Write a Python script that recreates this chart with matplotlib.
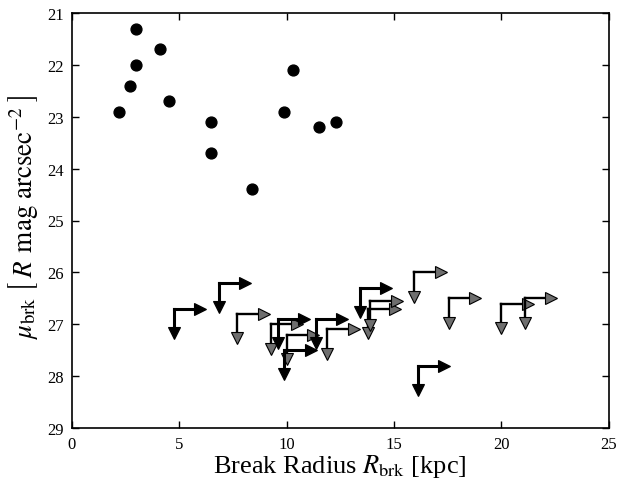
import numpy as np
import matplotlib
matplotlib.use('Agg')
import matplotlib.pyplot as plt

plt.rcParams['font.family'] = 'serif'
plt.rcParams['font.serif'] = ['Liberation Serif', 'DejaVu Serif']
plt.rcParams['mathtext.fontset'] = 'stix'

# measured breaks
r_brk = [2.2, 2.7, 3.0, 3.0, 4.1, 4.5, 6.5, 6.5, 8.4, 9.9, 10.3, 11.5, 12.3]
mu_brk = [22.9, 22.4, 21.3, 22.0, 21.7, 22.7, 23.1, 23.7, 24.4, 22.9, 22.1, 23.2, 23.1]

# limits (arrows), black and grey heads
lim_r_black = [4.75, 6.85, 9.6, 9.9, 11.35, 13.4, 16.1]
lim_mu_black = [26.7, 26.2, 26.9, 27.5, 26.9, 26.3, 27.8]
lim_r_grey = [7.7, 9.25, 10.0, 11.9, 13.8, 13.9, 15.95, 17.55, 20.0, 21.1]
lim_mu_grey = [26.8, 27.0, 27.2, 27.1, 26.7, 26.55, 26.0, 26.5, 26.6, 26.5]

ARROW_DX = 1.5   # kpc
ARROW_DY = 0.58  # mag


def draw_limits(ax, xs, ys, headcolor, lw, ms):
    half = ms / 72.0 * ax.figure.dpi / 2.0  # half head in pixels
    inv = ax.transData.inverted()
    for x, y in zip(xs, ys):
        tx, ty = x + ARROW_DX, y + ARROW_DY
        # pull the marker centre back by half a head so the tip sits on the end
        p = ax.transData.transform((tx, y))
        hx = inv.transform((p[0] - half, p[1]))[0]
        p = ax.transData.transform((x, ty))
        hy = inv.transform((p[0], p[1] + half))[1]
        ax.plot([x, hx], [y, y], color='black', lw=lw, solid_capstyle='projecting',
                marker='>', markevery=[1], ms=ms, mfc=headcolor, mec='black', mew=0.8)
        ax.plot([x, x], [y, hy], color='black', lw=lw, solid_capstyle='projecting',
                marker='v', markevery=[1], ms=ms, mfc=headcolor, mec='black', mew=0.8)


fig = plt.figure(figsize=(6.18, 4.81), dpi=100)
ax = fig.add_axes([72/618., 1 - 429/481., (608.5-72)/618., (429-14)/481.])
ax.set_xlim(0, 25)
ax.set_ylim(29, 21)

ax.plot(r_brk, mu_brk, 'o', color='black', ms=7.8)

draw_limits(ax, lim_r_grey, lim_mu_grey, '#6e6e6e', 1.7, 8)
draw_limits(ax, lim_r_black, lim_mu_black, 'black', 2.2, 8.5)

ax.set_xticks(np.arange(0, 26, 5))
ax.set_yticks(np.arange(21, 30, 1))
ax.tick_params(direction='in', top=True, right=True, length=5, width=1, labelsize=12, pad=6)
for s in ax.spines.values():
    s.set_linewidth(1.2)

ax.set_xlabel(r'Break Radius $R_{\rm brk}$ [kpc]', fontsize=19, labelpad=0)
ax.set_ylabel(r'$\mu_{\rm brk}\;\left[\;R\;\,{\rm mag\ arcsec}^{-2}\;\right]$', fontsize=19.5)
ax.yaxis.set_label_coords(-0.06, 0.51)

fig.savefig('out.png', dpi=100)
